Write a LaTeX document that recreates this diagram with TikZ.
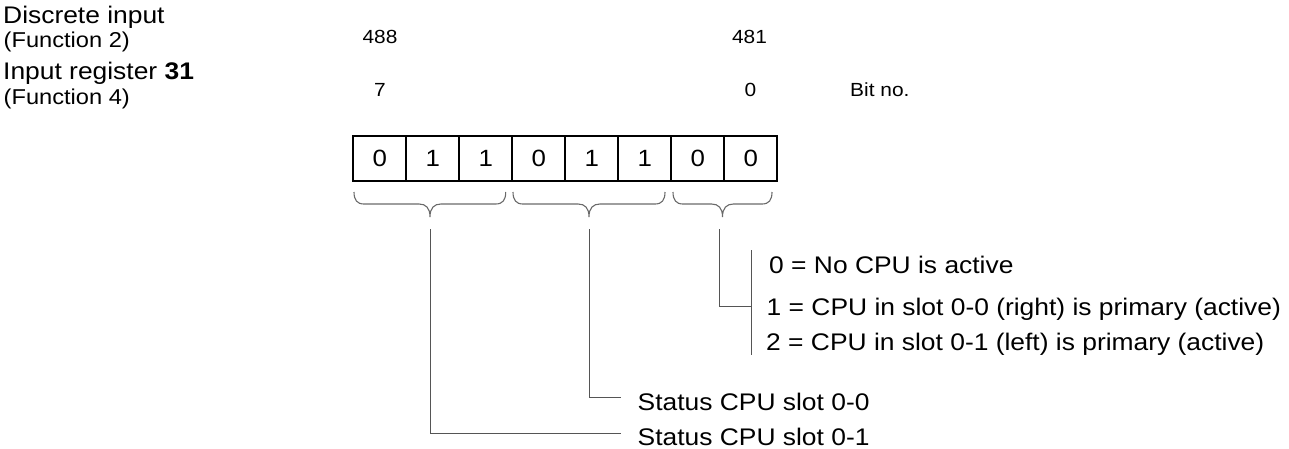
\documentclass[tikz,border=0pt]{standalone}
\usepackage{fontspec}
\setmainfont{Liberation Sans}[FakeStretch=1.1]
\definecolor{linegray}{HTML}{555555}
\definecolor{bracegray}{HTML}{6A6A6A}
\tikzset{
  lbl/.style={inner sep=0pt, anchor=base west, font=\fontsize{24}{28}\selectfont},
  sublbl/.style={inner sep=0pt, anchor=base west, font=\fontsize{21.5}{25}\selectfont},
  numlbl/.style={inner sep=0pt, anchor=base, font=\fontsize{19}{23}\selectfont},
  bitcell/.style={draw=black, line width=2pt, minimum width=53pt, minimum height=44.5pt, inner sep=0pt, font=\fontsize{23.5}{28}\selectfont},
  txt/.style={inner sep=0pt, anchor=base west, font=\fontsize{24}{28}\selectfont},
  conn/.style={draw=linegray, line width=1pt},
  bracestyle/.style={draw=bracegray, line width=1.1pt}
}
\newcommand{\mybrace}[3]{% left, right, middle
  \draw[bracestyle] (#1,192) .. controls (#1,200) and (#1+3,204) .. (#1+10,204) -- (#3-11,204)
    .. controls (#3-4,204) and (#3,208) .. (#3,217)
    .. controls (#3,208) and (#3+4,204) .. (#3+11,204) -- (#2-10,204)
    .. controls (#2-3,204) and (#2,200) .. (#2,192);
}
\begin{document}
\begin{tikzpicture}[x=1pt, y=-1pt]
\useasboundingbox (0,0) rectangle (1289,448);
% left labels
\node[lbl] (di) at (3,23) {Discrete input};
\node[sublbl] (f2) at (3.5,47.5) {(Function 2)};
\node[lbl] (ir) at (3,79) {Input register \textbf{31}};
\node[sublbl] (f4) at (3.5,104) {(Function 4)};
% numbers
\node[numlbl] (n488) at (380,43) {488};
\node[numlbl] (n481) at (749.5,43) {481};
\node[numlbl] (b7) at (380,96.7) {7};
\node[numlbl] (b0) at (750.5,96.7) {0};
\node[numlbl, anchor=base west] (bitno) at (850,96.7) {Bit no.};
% cells
\foreach \v [count=\i] in {0,1,1,0,1,1,0,0}{
  \node[bitcell] (c\i) at ({353.3+26.5+53*(\i-1)},158.3) {\v};
}
% braces
\mybrace{354}{505.7}{430}
\mybrace{513}{665}{589}
\mybrace{673}{772}{722.5}
% connector start points
\coordinate (s1) at (430,229);
\coordinate (s2) at (589,229);
\coordinate (s3) at (719,229);
\coordinate (e1) at (621,433.5);
\coordinate (e2) at (621,397.5);
\coordinate (e3) at (751.5,306.7);
\coordinate (bt) at (751.5,250);
\coordinate (bb) at (751.5,355);
\draw[conn] (s1) |- (e1);
\draw[conn] (s2) |- (e2);
\draw[conn] (s3) |- (e3);
\draw[conn] (bt) -- (bb);
% texts
\node[txt] (st1) at (637.5,445) {Status CPU slot 0-1};
\node[txt] (st0) at (637.5,410) {Status CPU slot 0-0};
\node[txt] (v0) at (769,273) {0 = No CPU is active};
\node[txt] (v1) at (766.5,315) {1 = CPU in slot 0-0 (right) is primary (active)};
\node[txt] (v2) at (766,350) {2 = CPU in slot 0-1 (left) is primary (active)};
\end{tikzpicture}
\end{document}
